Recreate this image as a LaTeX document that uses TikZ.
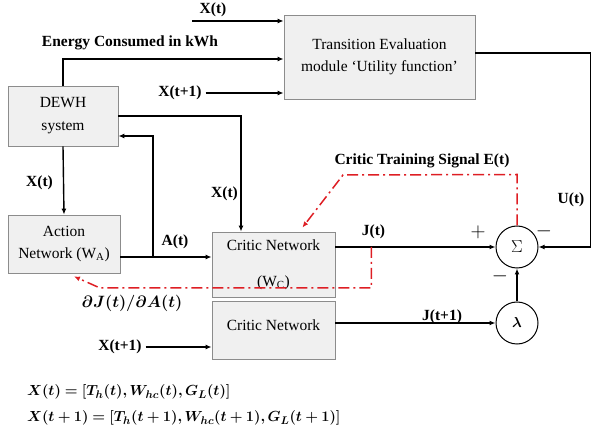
\documentclass[tikz,border=0pt]{standalone}
\usepackage{amsmath,bm}
\usepackage{fontspec}
\setmainfont{Liberation Serif}
\usetikzlibrary{arrows.meta}
\definecolor{sigred}{RGB}{222,30,36}
\definecolor{boxfill}{RGB}{240,240,240}
\definecolor{boxline}{RGB}{140,140,140}
\begin{document}
\begin{tikzpicture}[x=1pt,y=-1pt,line width=1.4pt,
        every node/.style={font=\fontsize{15.5}{18}\selectfont},
        box/.style={draw=boxline,line width=0.8pt,fill=boxfill,align=center,inner sep=0pt},
        arr/.style={-{Latex[length=6pt,width=5pt]}},
        lbl/.style={font=\fontsize{15.5}{18}\selectfont\bfseries},
        sgn/.style={font=\fontsize{21}{24}\selectfont},
        sig/.style={draw=sigred,line width=1.5pt,dash pattern=on 11pt off 4pt on 2pt off 4pt,-{Latex[length=6pt,width=5pt]}}]
        \useasboundingbox (0,0) rectangle (600,438);
        
        \node[box,minimum width=191pt,minimum height=84pt] (TE) at (379.5,57) {Transition Evaluation\\[4pt]module `Utility function'};
        \node[box,minimum width=110pt,minimum height=60pt] (DW) at (63,116) {DEWH\\[5pt]system};
        \node[box,minimum width=112pt,minimum height=58pt] (AN) at (64,244) {Action\\[4pt]Network (W\textsubscript{A})};
        \node[box,minimum width=123pt,minimum height=65pt] (CN1) at (273.5,264.5) {Critic Network\\[18pt](W\textsubscript{C})};
        \node[box,minimum width=123pt,minimum height=58pt] (CN2) at (273.5,330) {Critic Network\\[-8pt]\mbox{}};
        \node[draw,circle,minimum size=42pt,inner sep=0pt,line width=1pt,font=\fontsize{19}{22}\selectfont] (S) at (517,247) {$\Sigma$};
        \node[draw,circle,minimum size=42pt,inner sep=0pt,line width=1pt,font=\fontsize{15.5}{18}\selectfont] (L) at (517,323) {$\bm{\lambda}$};
        
        \coordinate (X1) at (192,21);
        \coordinate (AJ) at (153,257);
        \node[lbl] (X2) at (213,10) {X(t)};
        \node[lbl] (E1) at (130,43) {Energy Consumed in kWh};
        \node[lbl] (X3) at (180,93) {X(t+1)};
        \node[lbl] (X4) at (39.5,183) {X(t)};
        \node[lbl] (X6) at (224.5,194) {X(t)};
        \node[lbl] (A1) at (175,242) {A(t)};
        \node[lbl] (X5) at (120,347) {X(t+1)};
        \node[lbl] (J1) at (373.5,232) {J(t)};
        \node[lbl] (J2) at (442,317) {J(t+1)};
        \node[lbl] (U1) at (571,200) {U(t)};
        \node[lbl] (E2) at (422,161) {Critic Training Signal E(t)};
        \node[font=\fontsize{17.5}{20}\selectfont,scale=0.95] (D1) at (132,303) {$\boldsymbol{\partial J(t)/\partial A(t)}$};
        \node[sgn] (P1) at (478,232) {$+$};
        \node[sgn] (M1) at (544,231) {$-$};
        \node[sgn] (M2) at (500,276) {$-$};
        
        \draw[arr] (X1) -- (X1 -| TE.west);
        \draw[arr] (DW.north) |- (TE.west |- 0,59);
        \draw[arr] (X3.east) -- (X3 -| TE.west);
        \draw[arr] (DW.east) -| ([xshift=-32.5pt]CN1.north);
        \draw[arr] (DW.south) -- (AN.north);
        \draw[arr] ([yshift=-13pt]AN.east) -- (AJ -| CN1.west);
        \draw[arr] (AJ) |- ([yshift=-20pt]DW.east);
        \draw[arr] (X5.east) -- (X5 -| CN2.west);
        \draw[arr] (CN1.east |- S) -- (S.west);
        \draw[arr] (CN2.east |- L) -- (L.west);
        \draw[arr] (L.north) -- (S.south);
        \draw[arr] ([yshift=4pt]TE.east) -- ++(115,0) |- (S.east);
        
        \draw[sig] (S.north) -- ++(0,-51) -- (343,175) -- ([xshift=-33pt,yshift=4pt]CN1.north east);
        \draw[sig] ([xshift=36pt]CN1.east |- S.west) -- ++(0,41) -- (100,288) -- ([xshift=10pt,yshift=-3pt]AN.south);
        
        \node[anchor=west,scale=1.015] (Q1) at (23,392) {$\boldsymbol{X(t) = [T_h(t), W_{hc}(t), G_L(t)]}$};
        \node[anchor=west,scale=1.015] (Q2) at (23,418) {$\boldsymbol{X(t+1) = [T_h(t+1), W_{hc}(t+1), G_L(t+1)]}$};
    \end{tikzpicture}
\end{document}
